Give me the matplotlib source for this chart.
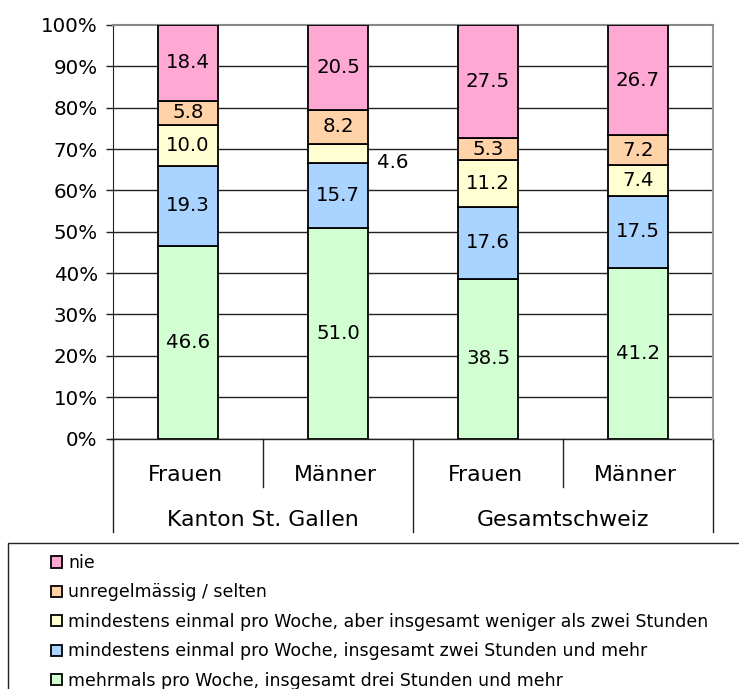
import numpy as np
import matplotlib.pyplot as plt
from matplotlib.patches import Rectangle

# Daten
gruppen = ['Frauen', 'Männer', 'Frauen', 'Männer']
regionen = ['Kanton St. Gallen', 'Gesamtschweiz']
kategorien = ['mehrmals pro Woche, insgesamt drei Stunden und mehr',
              'mindestens einmal pro Woche, insgesamt zwei Stunden und mehr',
              'mindestens einmal pro Woche, aber insgesamt weniger als zwei Stunden',
              'unregelmässig / selten',
              'nie']
mehrmals = [46.6, 51.0, 38.5, 41.2]
zwei_stunden = [19.3, 15.7, 17.6, 17.5]
weniger = [10.0, 4.6, 11.2, 7.4]
selten = [5.8, 8.2, 5.3, 7.2]
nie = [18.4, 20.5, 27.5, 26.7]

farben = ['#D2FFD2', '#A8D4FF', '#FFFFD2', '#FFD2A8', '#FFA8D4']

werte = [mehrmals, zwei_stunden, weniger, selten, nie]

fig = plt.figure(figsize=(7.39, 6.89), dpi=100)
ax = fig.add_axes([113/739, 1-438.5/689, 600/739, 413.5/689])

x = np.arange(len(gruppen))
unten = np.zeros(len(gruppen))
balken = []
for serie, farbe, name in zip(werte, farben, kategorien):
    b = ax.bar(x, serie, width=0.4, bottom=unten, color=farbe, edgecolor='black',
               linewidth=1.3, label=name, zorder=3)
    balken.append(b)
    for i, v in enumerate(serie):
        mitte = unten[i] + v / 2
        if v < 5:
            # kleiner Wert: Beschriftung rechts neben dem Balken
            ax.text(x[i] + 0.26, mitte - 2.2, f'{v:.1f}', ha='left', va='center', fontsize=14.2)
        else:
            ax.text(x[i], mitte, f'{v:.1f}', ha='center', va='center', fontsize=14.2, zorder=4)
    unten += np.array(serie)

ax.set_xlim(-0.5, 3.5)
ax.set_ylim(0, 100)
ax.set_yticks(np.arange(0, 101, 10))
ax.set_yticklabels([f'{t}%' for t in range(0, 101, 10)], fontsize=14.3)
ax.yaxis.grid(True, color='#222222', linewidth=1, zorder=0)
ax.get_ygridlines()[-1].set_visible(False)
ax.tick_params(axis='y', length=5, width=1, color='#222222', pad=6)
ax.set_xticks([])
ax.spines['top'].set_color('#888888')
ax.spines['top'].set_linewidth(1.5)
ax.spines['bottom'].set_visible(False)
ax.spines['right'].set_color('#999999')
ax.spines['right'].set_linewidth(1.5)
ax.spines['left'].set_color('#222222')

# Kategorienachse mit zwei Ebenen
tr = ax.get_xaxis_transform()
ax.plot([-0.52, 3.5], [0, 0], color='#222222', lw=1, transform=tr, clip_on=False)
for pos, tief in [(-0.5, -0.226), (0.5, -0.117), (1.5, -0.226), (2.5, -0.117), (3.5, -0.226)]:
    ax.plot([pos, pos], [0, tief], color='#222222', lw=1, transform=tr, clip_on=False)
for i, g in enumerate(gruppen):
    ax.text(x[i] - 0.02, -0.1028, g, ha='center', va='baseline', fontsize=15.8, transform=tr)
for j, r in enumerate(regionen):
    ax.text(0.5 + 2 * j, -0.2116, r, ha='center', va='baseline', fontsize=15.8, transform=tr)

# Legende
fig.patches.append(Rectangle((8/739, -0.05), 0.99, 1 - 543/689 + 0.05, transform=fig.transFigure,
                             facecolor='white', edgecolor='#222222', lw=1))
handles = balken[::-1]
labels = kategorien[::-1]
leg = fig.legend(handles, labels, loc='upper left', bbox_to_anchor=(51/739, 1 - 554/689),
                 frameon=False, fontsize=12.5, handlelength=0.63, handleheight=0.63,
                 handletextpad=0.35, labelspacing=0.66, borderaxespad=0, borderpad=0)

fig.savefig('out.png', dpi=100)
